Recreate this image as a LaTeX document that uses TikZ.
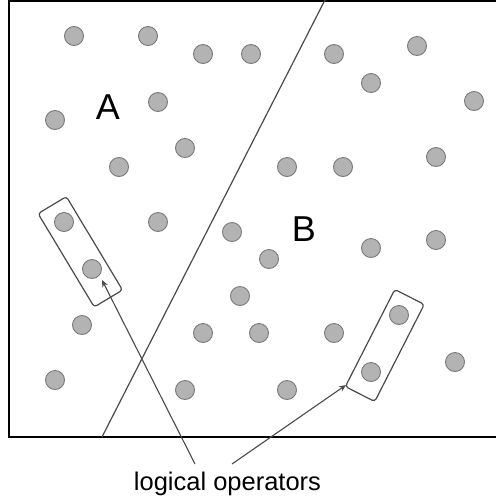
\documentclass[tikz,border=0pt]{standalone}
\usepackage{fontspec}
\setmainfont{Liberation Sans}
\usetikzlibrary{arrows.meta}
\definecolor{Dot}{HTML}{B3B3B3}
\definecolor{DotRim}{HTML}{7A7A7A}
\definecolor{Pen}{HTML}{4A4A4A}

\begin{document}
\begin{tikzpicture}[
  x=1pt,y=-1pt,
  dot/.style={circle,draw=DotRim,fill=Dot,line width=0.9pt,minimum size=19pt,inner sep=0pt},
  region/.style={font=\fontsize{36}{40}\selectfont},
  pairbox/.style={draw=Pen,line width=1.2pt,rounded corners=3pt,minimum width=33pt,minimum height=109pt,inner sep=0pt},
  ptr/.style={-{Stealth[length=7pt,width=6pt]},line width=1.1pt,Pen}
]
  \useasboundingbox (0,0) rectangle (496,499);
  \clip (0,0) rectangle (496,499);
  % frame, open on the right
  \draw[line width=2pt] (9,1) rectangle (520,437);
  % the cut between A and B
  \coordinate (cutlo) at (102,437);
  \coordinate (cuthi) at (327,-4);
  \draw[Pen,line width=1.2pt] (cutlo) -- (cuthi);
  % qubits
  \foreach \x/\y [count=\i] in {74/36,148/36,203/54,251/54,158/102,55/120,185/148,119/167,
      64/222,158/222,92/269,82/325,55/380,
      232/232,269/259,240/296,203/333,259/333,334/333,185/390,287/390,
      334/54,417/46,371/83,474/101,436/157,287/167,343/167,371/248,436/240,
      399/315,371/372,455/362}
    \node[dot] (q\i) at (\x,\y) {};
  \node[region] (A) at (108,107) {A};
  \node[region] (B) at (304,229) {B};
  % boxed pairs
  \node[pairbox,rotate=31] (opL) at (80.3,251.8) {};
  \node[pairbox,rotate=-27] (opR) at (384.8,345.5) {};
  \node[font=\fontsize{25.5}{30}\selectfont,anchor=base] (ops) at (227.5,490) {logical operators};
  \coordinate (srcL) at (195,464);
  \coordinate (srcR) at (232,464);
  \coordinate (tipL) at (102,280);
  \coordinate (tipR) at (346,385);
  \draw[ptr] (srcL) -- (tipL);
  \draw[ptr] (srcR) -- (tipR);
\end{tikzpicture}
\end{document}
